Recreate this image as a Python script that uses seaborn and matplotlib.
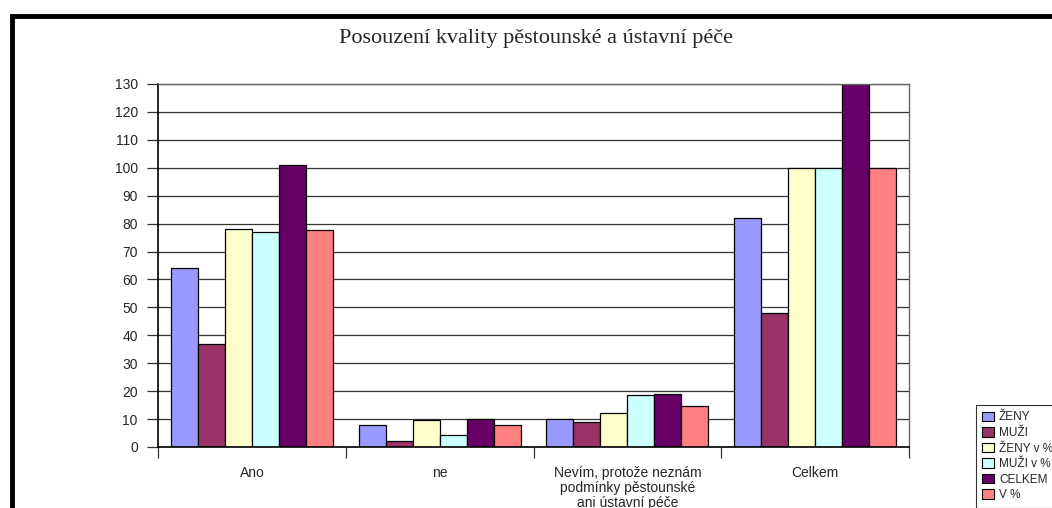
import pandas as pd
import matplotlib
matplotlib.use("Agg")
import matplotlib.pyplot as plt
import seaborn as sns
from matplotlib.patches import Rectangle

# data
categories = ["Ano", "ne", "Nevím, protože neznám\npodmínky pěstounské\nani ústavní péče", "Celkem"]
series = ["ŽENY", "MUŽI", "ŽENY v %", "MUŽI v %", "CELKEM", "V %"]
zeny = [64, 8, 10, 82]
muzi = [37, 2, 9, 48]
zeny_pct = [78, 9.8, 12.2, 100]
muzi_pct = [77, 4.2, 18.8, 100]
celkem = [101, 10, 19, 130]
v_pct = [77.7, 7.7, 14.6, 100]
colors = ["#9999FF", "#993366", "#FFFFCC", "#CCFFFF", "#660066", "#FF8080"]
y_ticks = list(range(0, 131, 10))

values = [zeny, muzi, zeny_pct, muzi_pct, celkem, v_pct]
df = pd.DataFrame(
    [(c, s, v) for s, vals in zip(series, values) for c, v in zip(categories, vals)],
    columns=["kategorie", "serie", "hodnota"],
)

sns.set_theme(style="white")
plt.rcParams["font.family"] = ["Liberation Sans", "DejaVu Sans"]

fig = plt.figure(figsize=(10.52, 5.08), dpi=100)
W, H = 1052, 508
ax = fig.add_axes([158 / W, 1 - 447 / H, (909 - 158) / W, (447 - 84) / H])

sns.barplot(data=df, x="kategorie", y="hodnota", hue="serie", order=categories,
            hue_order=series, palette=colors, width=0.862, edgecolor="black",
            linewidth=0.9, saturation=1, ax=ax, legend=False)

ax.set_ylim(0, 130)
ax.set_xlim(-0.5, len(categories) - 0.5)
ax.set_yticks(y_ticks)
ax.yaxis.grid(True, color="#333333", linewidth=0.9)
ax.set_axisbelow(True)
ax.set_xlabel("")
ax.set_ylabel("")
ax.tick_params(axis="y", which="major", left=True, length=8, width=0.9,
               color="#333333", labelsize=10, pad=6.5)
ax.tick_params(axis="x", which="major", bottom=False, length=0, labelsize=10, pad=14)
ax.set_xticks([i - 0.5 for i in range(len(categories) + 1)], minor=True)
ax.tick_params(axis="x", which="minor", bottom=True, length=8, width=0.9, color="#333333")
for lbl in ax.get_xticklabels():
    lbl.set_multialignment("center")
    lbl.set_linespacing(1.05)

for side in ["left", "bottom"]:
    ax.spines[side].set_color("black")
    ax.spines[side].set_linewidth(1.2)
for side in ["top", "right"]:
    ax.spines[side].set_color("#666666")
    ax.spines[side].set_linewidth(1.0)

fig.text(536 / W, 1 - 38 / H, "Posouzení kvality pěstounské a ústavní péče",
         ha="center", va="center", fontsize=16, family=["Liberation Serif", "DejaVu Serif"])

handles = [Rectangle((0, 0), 1, 1, facecolor=c, edgecolor="black", linewidth=0.8) for c in colors]
leg = fig.legend(handles, series, loc="upper left", bbox_to_anchor=(976 / W, 1 - 405 / H),
                 bbox_transform=fig.transFigure, fontsize=8.5, frameon=True, fancybox=False,
                 edgecolor="black", handlelength=1.0, handleheight=0.9, labelspacing=0.3,
                 handletextpad=0.4, borderpad=0.55, borderaxespad=0)
leg.get_frame().set_linewidth(0.8)

# outer chart border, partly cut off like in the reference
fig.patches.append(Rectangle((12 / W, 1 - 700 / H), 1200 / W, (700 - 15.5) / H,
                             transform=fig.transFigure, fill=False, edgecolor="black",
                             linewidth=3.5, zorder=10))

fig.savefig("out.png", dpi=100)
